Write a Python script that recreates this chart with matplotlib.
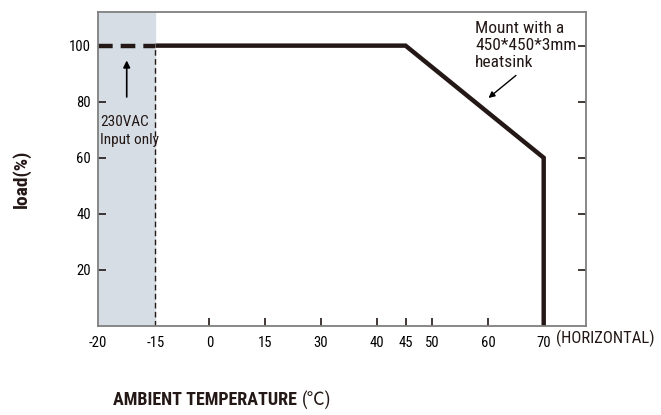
import numpy as np
import matplotlib
matplotlib.use("Agg")
import matplotlib.pyplot as plt

# Données de la courbe de déclassement
temp_dash = [-20, -15]
load_dash = [100, 100]
temp_curve = [-15, 45, 70, 70]
load_curve = [100, 100, 60, 0]

x_ticks = [-20, -15, 0, 15, 30, 40, 45, 50, 60, 70]
y_ticks = [20, 40, 60, 80, 100]

# Échelle non linéaire de l'axe des températures
scale_temps = [-20, -15, 0, 15, 30, 40, 45, 50, 60, 70, 80]
scale_pos = [0, 1.03, 2, 3, 4, 5, 5.52, 6, 7, 8, 9]

def forward(t):
    return np.interp(t, scale_temps, scale_pos)

def inverse(p):
    return np.interp(p, scale_pos, scale_temps)

plt.rcParams['font.family'] = ['Roboto Condensed', 'Noto Sans CJK SC', 'DejaVu Sans']
ink = '#231815'

fig = plt.figure(figsize=(6.61, 4.15), dpi=100)
ax = fig.add_axes([0.1483, 0.2145, 0.7383, 0.7566])
ax.set_xscale('function', functions=(forward, inverse))
ax.set_xlim(-20, inverse(8.76))
ax.set_ylim(0, 112)

# Zone grise 230VAC
ax.axvspan(-20, -15, color='#d6dde5', zorder=0)
ax.plot([-15, -15], [0, 100], color=ink, lw=1, dashes=(4, 2.5))

ax.plot(temp_dash, load_dash, color=ink, lw=3.2, dashes=(3.3, 1.8),
        solid_capstyle='butt', dash_capstyle='butt')
ax.plot(temp_curve, load_curve, color=ink, lw=3.2, solid_joinstyle='miter',
        solid_capstyle='butt')

# Annotations
ax.annotate('', xy=(-17.5, 95.7), xytext=(-17.5, 80.7),
            arrowprops=dict(arrowstyle='-|>', color='black', lw=1.2,
                            mutation_scale=10))
ax.text(-19.8, 69.6, '230VAC\nInput only', fontsize=11, color=ink,
        ha='left', va='center', linespacing=1.4)
ax.annotate('', xy=(59.7, 80.7), xytext=(65.4, 90),
            arrowprops=dict(arrowstyle='-|>', color='black', lw=1,
                            mutation_scale=9))
ax.text(inverse(6.77), 100, 'Mount with a\n450*450*3mm\nheatsink', fontsize=12.5,
        color=ink, ha='left', va='center', linespacing=1.15)

# Axes et graduations
ax.set_xticks(x_ticks)
ax.set_xticklabels([str(t) for t in x_ticks])
ax.set_yticks(y_ticks)
ax.tick_params(axis='x', direction='in', length=6, width=1.2, color=ink,
               labelsize=10.5, pad=7)
ax.tick_params(axis='y', direction='in', length=6, width=1.2, color=ink,
               labelsize=10.5, right=True, pad=5)
ax.xaxis.get_major_ticks()[0].tick1line.set_visible(False)
ax.xaxis.get_major_ticks()[1].tick1line.set_visible(False)
for s in ax.spines.values():
    s.set_color('#7f7f7f')
    s.set_linewidth(1.3)

fig.text(0.841, 0.185, '(HORIZONTAL)', fontsize=12, color=ink, ha='left', va='center')
fig.text(0.455, 0.036, 'AMBIENT TEMPERATURE ', fontsize=13, fontweight='bold',
         color=ink, ha='right', va='center')
fig.text(0.457, 0.036, '(℃)', fontsize=13, color=ink, ha='left', va='center')
fig.text(0.032, 0.570, 'load(%)', fontsize=14, fontweight='bold', color=ink,
         rotation=90, ha='center', va='center')

fig.savefig('out.png', dpi=100)
